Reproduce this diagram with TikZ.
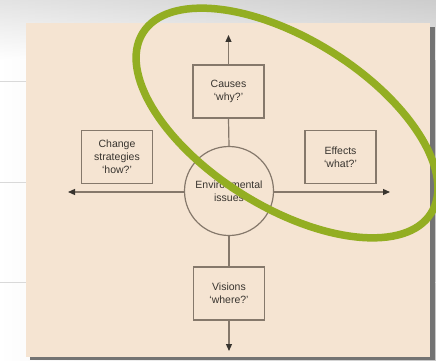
\documentclass[tikz,border=0pt]{standalone}
\usepackage{fontspec}
\setmainfont{Liberation Sans}
\usetikzlibrary{arrows.meta,shadings}
\definecolor{panel}{HTML}{F5E4D2}
\definecolor{edge}{HTML}{85786B}
\definecolor{ink}{HTML}{38342F}
\definecolor{olive}{HTML}{93AE22}
\tikzset{
  box/.style={draw=edge, line width=1.2pt, fill=panel, minimum width=71pt, minimum height=53pt,
    align=center, text=ink, font=\fontsize{10.5}{13}\selectfont, inner sep=1pt},
  hub/.style={draw=edge, line width=1.2pt, fill=panel, circle, minimum size=89pt,
    align=center, text=ink, font=\fontsize{10.5}{13}\selectfont, inner sep=0pt},
  link/.style={draw=edge, line width=1.2pt},
  arr/.style={link, -{Triangle[length=7pt,width=6pt,color=ink]}},
  guide/.style={draw=black!15, line width=0.8pt}
}
\begin{document}
\begin{tikzpicture}[x=1pt,y=-1pt]
\useasboundingbox (0,0) rectangle (436,361);
% background
\shade[left color=white, right color=black!22] (0,0) rectangle (436,361);
\shade[top color=black!18, bottom color=white, opacity=0.6] (0,0) rectangle (436,60);
\draw[guide] (0,81) -- (26,81);
\draw[guide] (0,182) -- (26,182);
\draw[guide] (0,282) -- (26,282);
\draw[guide] (430,282) -- (436,282);
% panel shadow and panel
\fill[black!55] (30,27) rectangle (435,360);
\fill[panel] (26,23) rectangle (430,357);
% nodes
\node[hub] (env) at (229,191) {Environmental\\issues};
\node[box] (cause) at (228.5,91.5) {Causes\\`why?'};
\node[box] (change) at (117,157) {Change\\strategies\\`how?'};
\node[box] (effect) at (340.5,157) {Effects\\`what?'};
\node[box] (vision) at (229,293.5) {Visions\\`where?'};
\coordinate (tup) at (228.5,35);
\coordinate (tdown) at (229,351);
\coordinate (tleft) at (68,192);
\coordinate (tright) at (390,192);
% connectors
\draw[link] (env.north) -- (cause.south);
\draw[arr] (cause.north) -- (tup);
\draw[link] (env.south) -- (vision.north);
\draw[arr] (vision.south) -- (tdown);
\draw[arr] (env.west |- tleft) -- (tleft);
\draw[arr] (env.east |- tright) -- (tright);
% green highlight ellipse
\draw[olive, line width=7.5pt, rotate around={-32:(287,123)}] (287,123) ellipse [x radius=170, y radius=84];
\end{tikzpicture}
\end{document}
